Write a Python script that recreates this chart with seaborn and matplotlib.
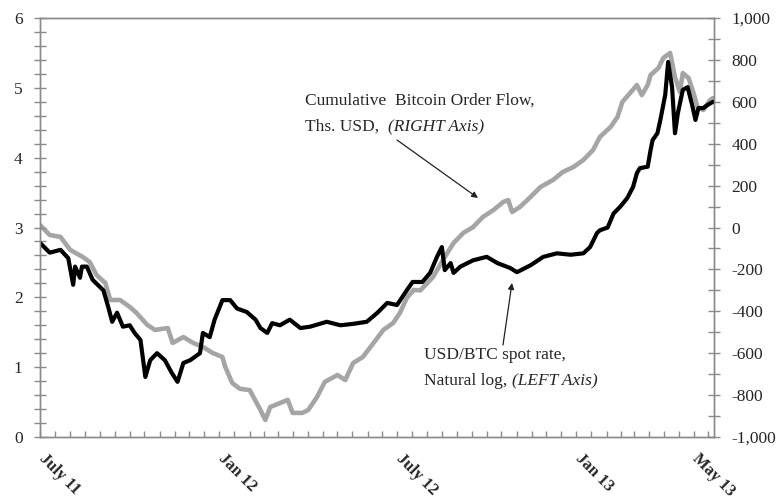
import matplotlib
matplotlib.use("Agg")
import matplotlib.pyplot as plt
import matplotlib.dates as mdates
import matplotlib.transforms as mtransforms
from matplotlib.ticker import MultipleLocator, FuncFormatter
import pandas as pd
import seaborn as sns

# dias desde 2011-07-01 e valores
inicio = pd.Timestamp("2011-07-01")

dias_preco = [0, 10, 21, 29, 34, 36, 41, 43, 48, 54, 65, 70, 74, 79, 85, 92, 97, 103,
              108, 113, 120, 128, 135, 141, 147, 154, 164, 167, 174, 179, 187, 195, 202,
              212, 221, 226, 233, 238, 246, 256, 267, 277, 294, 308, 321, 335, 346, 356,
              366, 376, 382, 392, 400, 407, 412, 415, 421, 424, 431, 444, 458, 469, 482,
              489, 503, 516, 530, 544, 557, 564, 571, 574, 582, 588, 595, 602, 608, 612,
              615, 623, 626, 628, 633, 636, 641, 644, 648, 651, 654, 659, 664, 669, 672,
              675, 680, 685, 690]
log_preco = [2.78, 2.64, 2.68, 2.56, 2.18, 2.44, 2.28, 2.44, 2.44, 2.25, 2.10, 1.86, 1.65,
             1.78, 1.58, 1.60, 1.49, 1.39, 0.86, 1.10, 1.20, 1.10, 0.92, 0.79, 1.06, 1.10,
             1.20, 1.49, 1.43, 1.68, 1.96, 1.96, 1.84, 1.79, 1.68, 1.56, 1.49, 1.63, 1.60,
             1.68, 1.56, 1.58, 1.65, 1.60, 1.62, 1.65, 1.78, 1.92, 1.89, 2.10, 2.22, 2.22,
             2.35, 2.58, 2.72, 2.39, 2.49, 2.35, 2.44, 2.53, 2.58, 2.49, 2.42, 2.36, 2.46,
             2.58, 2.63, 2.61, 2.63, 2.72, 2.92, 2.96, 3.00, 3.20, 3.30, 3.42, 3.58, 3.78,
             3.85, 3.87, 4.11, 4.25, 4.35, 4.54, 4.90, 5.37, 5.01, 4.35, 4.64, 4.97, 5.01,
             4.73, 4.54, 4.71, 4.71, 4.76, 4.80]

dias_fluxo = [0, 10, 21, 31, 44, 51, 58, 67, 72, 82, 92, 99, 110, 118, 131, 136, 147, 157,
              167, 177, 187, 190, 197, 205, 215, 226, 231, 236, 246, 254, 259, 269, 275,
              284, 292, 305, 313, 321, 331, 342, 352, 362, 369, 376, 383, 390, 403, 415,
              424, 434, 444, 454, 465, 475, 480, 484, 492, 503, 513, 526, 536, 547, 557,
              567, 574, 585, 592, 597, 605, 612, 617, 623, 626, 634, 639, 646, 651, 656,
              659, 665, 670, 674, 680, 687, 690]
fluxo = [12, -36, -45, -107, -141, -165, -227, -265, -346, -346, -379, -408, -465, -489,
         -480, -551, -523, -551, -570, -599, -618, -666, -742, -770, -776, -871, -919, -857,
         -838, -823, -885, -885, -871, -809, -737, -704, -728, -647, -618, -551, -489, -456,
         -408, -337, -298, -300, -236, -141, -74, -26, 2, 50, 84, 122, 131, 74, 98, 146,
         193, 227, 265, 289, 322, 370, 432, 480, 527, 599, 642, 680, 632, 680, 728, 761,
         809, 833, 718, 647, 737, 713, 642, 575, 561, 608, 618]

datas_rotulos = ["2011-07-01", "2012-01-01", "2012-07-01", "2013-01-01", "2013-05-01"]
rotulos_x = ["July 11", "Jan 12", "July 12", "Jan 13", "May 13"]

df_preco = pd.DataFrame({"data": inicio + pd.to_timedelta(dias_preco, unit="D"), "valor": log_preco})
df_fluxo = pd.DataFrame({"data": inicio + pd.to_timedelta(dias_fluxo, unit="D"), "valor": fluxo})

sns.set_style("white")
plt.rcParams["font.family"] = ["Liberation Serif", "DejaVu Serif"]

cinza_eixo = "#8a8a8a"

fig = plt.figure(figsize=(7.8, 5.04), dpi=100)
ax = fig.add_axes([40 / 780, 1 - 437 / 504, 674 / 780, 419 / 504])
ax2 = ax.twinx()

sns.lineplot(data=df_fluxo, x="data", y="valor", ax=ax2, color="#a5a5a5", linewidth=3.3)
sns.lineplot(data=df_preco, x="data", y="valor", ax=ax, color="black", linewidth=3.0)

ax.set_zorder(ax2.get_zorder() + 1)
ax.patch.set_visible(False)

ax.set_xlim(pd.Timestamp("2011-07-01"), pd.Timestamp("2013-05-22"))
ax.set_ylim(0, 6)
ax2.set_ylim(-1000, 1000)

ax.yaxis.set_major_locator(MultipleLocator(1))
ax.yaxis.set_minor_locator(MultipleLocator(0.2))
ax2.yaxis.set_major_locator(MultipleLocator(200))
ax2.yaxis.set_minor_locator(MultipleLocator(100))
ax2.yaxis.set_major_formatter(FuncFormatter(lambda v, p: f"{int(v):,}"))

ax.set_xticks(pd.to_datetime(datas_rotulos))
ax.set_xticklabels(rotulos_x)
ax.xaxis.set_minor_locator(mdates.DayLocator(bymonthday=[1, 16]))

for a in (ax, ax2):
    a.set_xlabel("")
    a.set_ylabel("")
    for s in a.spines.values():
        s.set_color(cinza_eixo)
        s.set_linewidth(1.0)

ax.tick_params(axis="y", which="both", direction="inout", length=9, width=1,
               color=cinza_eixo, labelsize=12.5, pad=8, left=True)
ax2.tick_params(axis="y", which="both", direction="inout", length=9, width=1,
                color=cinza_eixo, labelsize=12.5, pad=8, right=True)
ax.tick_params(axis="x", which="both", direction="in", length=4, width=1,
               color=cinza_eixo, bottom=True, pad=10)
desloca = mtransforms.ScaledTranslation(7 / 100, 0, fig.dpi_scale_trans)
for t in ax.get_xticklabels():
    t.set_rotation(-45)
    t.set_ha("left")
    t.set_va("top")
    t.set_rotation_mode("anchor")
    t.set_fontweight("bold")
    t.set_fontsize(12)
    t.set_transform(t.get_transform() + desloca)

# textos das anotações
def px(x, y):
    return (x / 780, 1 - y / 504)

fs = 12.5
fig.text(*px(305, 101), "Cumulative  Bitcoin Order Flow,", fontsize=fs, va="center")
fig.text(*px(305, 127), "Ths. USD,", fontsize=fs, va="center")
fig.text(*px(388, 127), "(RIGHT Axis)", fontsize=fs, va="center", style="italic")
fig.text(*px(424, 355), "USD/BTC spot rate,", fontsize=fs, va="center")
fig.text(*px(424, 381), "Natural log,", fontsize=fs, va="center")
fig.text(*px(512, 381), "(LEFT Axis)", fontsize=fs, va="center", style="italic")

seta = dict(arrowstyle="-|>", color="#222222", lw=0.9, mutation_scale=9, shrinkA=0, shrinkB=0)
ax.annotate("", xy=px(478, 198), xycoords="figure fraction",
            xytext=px(397, 140), textcoords="figure fraction", arrowprops=seta)
ax.annotate("", xy=px(512, 283), xycoords="figure fraction",
            xytext=px(503, 345), textcoords="figure fraction", arrowprops=seta)

fig.savefig("out.png", dpi=100)
